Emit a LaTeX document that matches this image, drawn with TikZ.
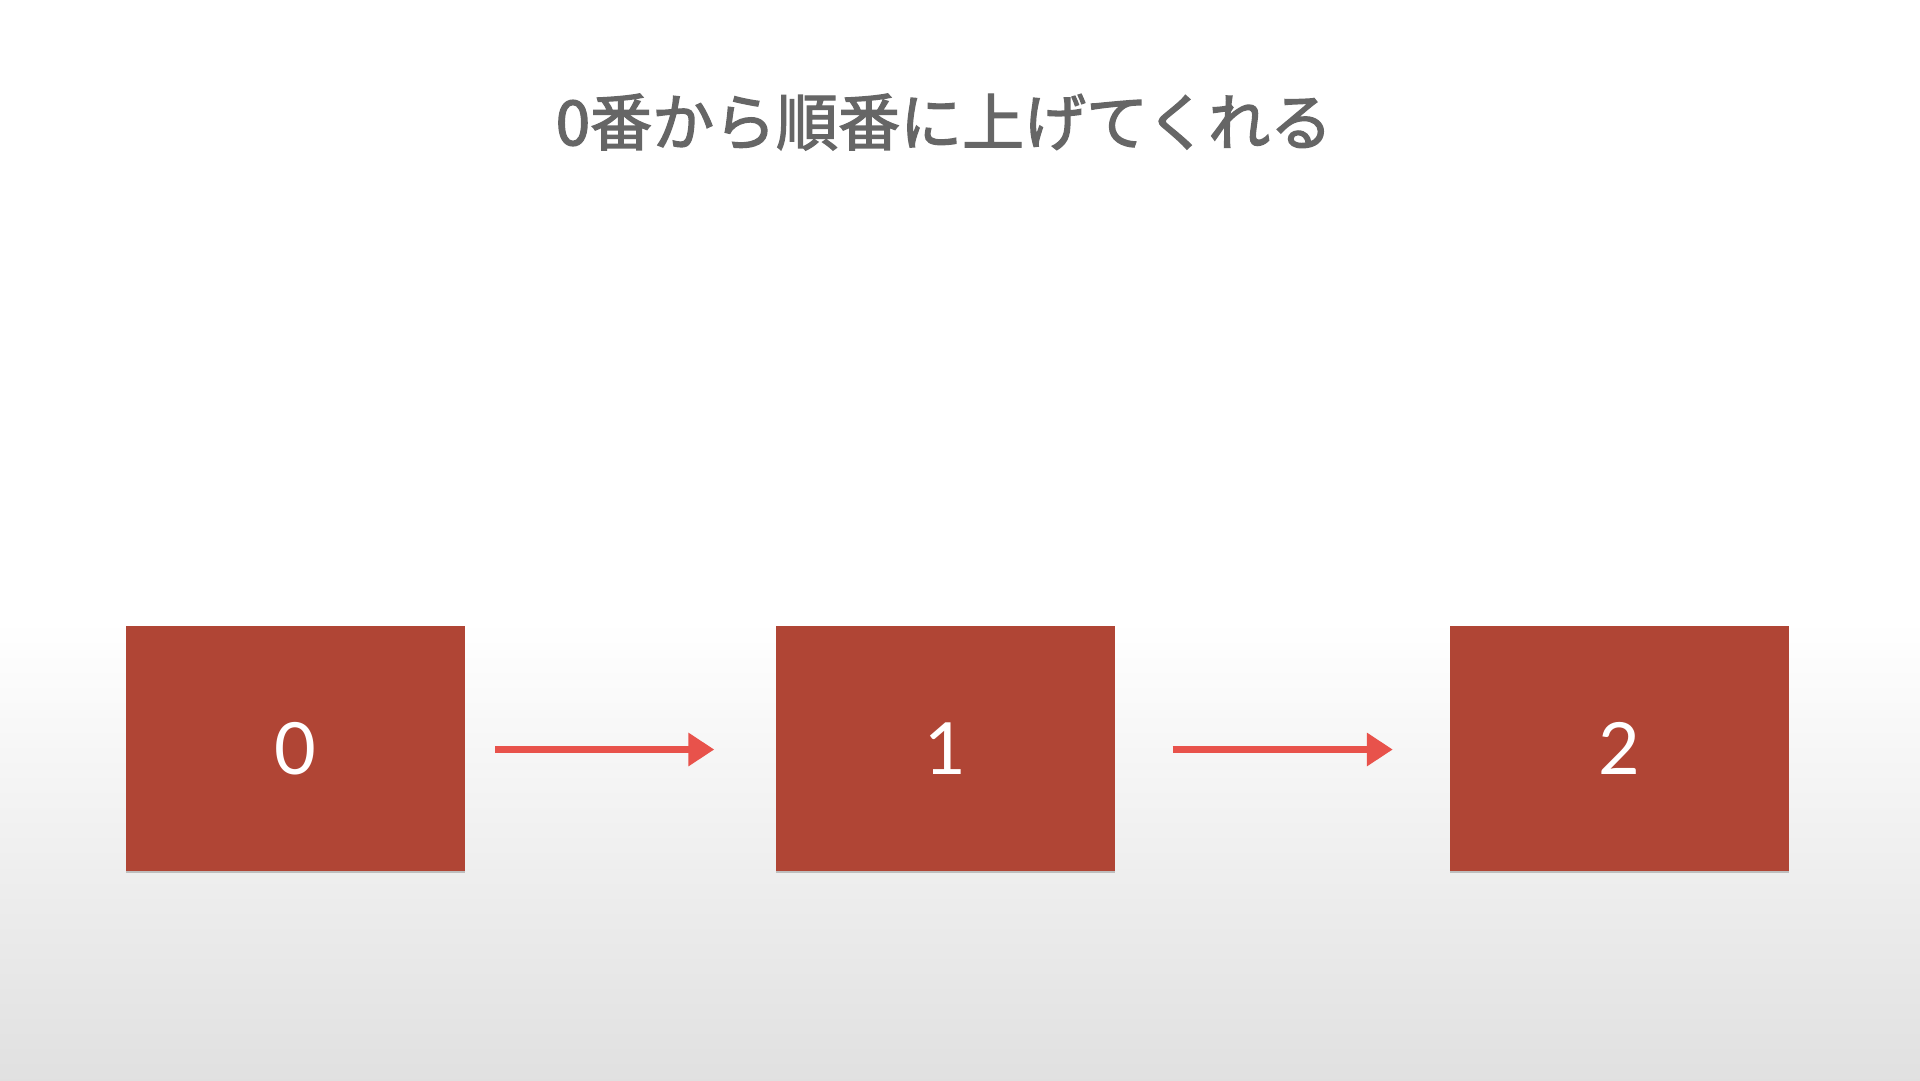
\documentclass[tikz,border=0pt]{standalone}
\usepackage{fontspec}
\usetikzlibrary{arrows.meta,shadows}
\newfontfamily\cjk{Noto Sans CJK JP}[FakeBold=2.2]
\newfontfamily\numfont{Lato}
\definecolor{boxred}{RGB}{176,69,53}
\definecolor{arrowred}{RGB}{232,82,75}
\definecolor{titlegray}{RGB}{102,102,102}
\tikzset{
  card/.style={fill=boxred, draw=none, minimum width=339pt, minimum height=245pt, inner sep=0pt,
    text=white, font=\numfont\fontsize{72}{80}\selectfont,
    drop shadow={shadow xshift=0pt, shadow yshift=-2pt, opacity=0.35, fill=black!60}},
  flow/.style={draw=arrowred, line width=7pt, -{Triangle[length=26pt,width=32pt]}, shorten >=0pt}
}
\begin{document}
\begin{tikzpicture}[x=1pt,y=-1pt]
\useasboundingbox (0,0) rectangle (1920,1080);
\fill[white] (0,0) rectangle (1920,620);
\shade[top color=white, bottom color=white!88!black] (0,620) rectangle (1920,1080);
\node[text=titlegray, font=\cjk\fontsize{62}{70}\selectfont] (title) at (944,122) {0番から順番に上げてくれる};
\node[card] (b0) at (295.5,748.5) {0};
\node[card] (b1) at (945,748.5) {1};
\node[card] (b2) at (1619.5,748.5) {2};
\draw[flow] ([xshift=30pt,yshift=-1pt]b0.east) -- ([xshift=-61pt,yshift=-1pt]b1.west);
\draw[flow] ([xshift=58pt,yshift=-1pt]b1.east) -- ([xshift=-57pt,yshift=-1pt]b2.west);
\end{tikzpicture}
\end{document}
